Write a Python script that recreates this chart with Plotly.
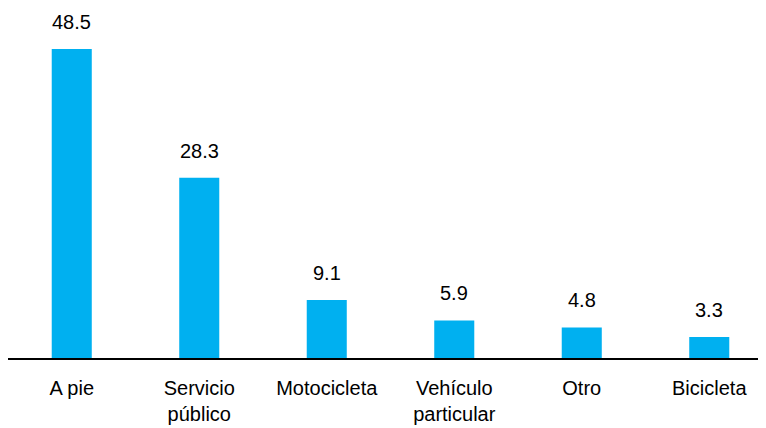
import plotly.graph_objects as go

categories = ["A pie", "Servicio<br>público", "Motocicleta", "Vehículo<br>particular", "Otro", "Bicicleta"]
values = [48.5, 28.3, 9.1, 5.9, 4.8, 3.3]
labels = ["48.5", "28.3", "9.1", "5.9", "4.8", "3.3"]

FONT = "Liberation Sans, Arial, sans-serif"

fig = go.Figure()
fig.add_trace(go.Bar(
    x=categories, y=values,
    marker=dict(color="#00B0F0", line=dict(width=0)),
    width=0.314,
))

for c, v, t in zip(categories, values, labels):
    fig.add_annotation(x=c, y=v, text=t, showarrow=False, yanchor="bottom",
                       yshift=14, font=dict(family=FONT, size=20, color="black"))

fig.update_layout(
    width=766, height=428,
    margin=dict(l=0, r=8, t=2, b=78),
    paper_bgcolor="white", plot_bgcolor="white",
    showlegend=False,
    font=dict(family=FONT, size=20, color="black"),
)
fig.update_xaxes(
    range=[-0.5, 5.445],
    showline=True, linecolor="black", linewidth=2,
    ticks="", ticklabelstandoff=11,
    tickfont=dict(family=FONT, size=20, color="black"),
    showgrid=False, zeroline=False,
)
fig.update_yaxes(
    range=[0, 54.6], visible=False, showgrid=False, zeroline=False,
)

fig.write_html("out.html")
